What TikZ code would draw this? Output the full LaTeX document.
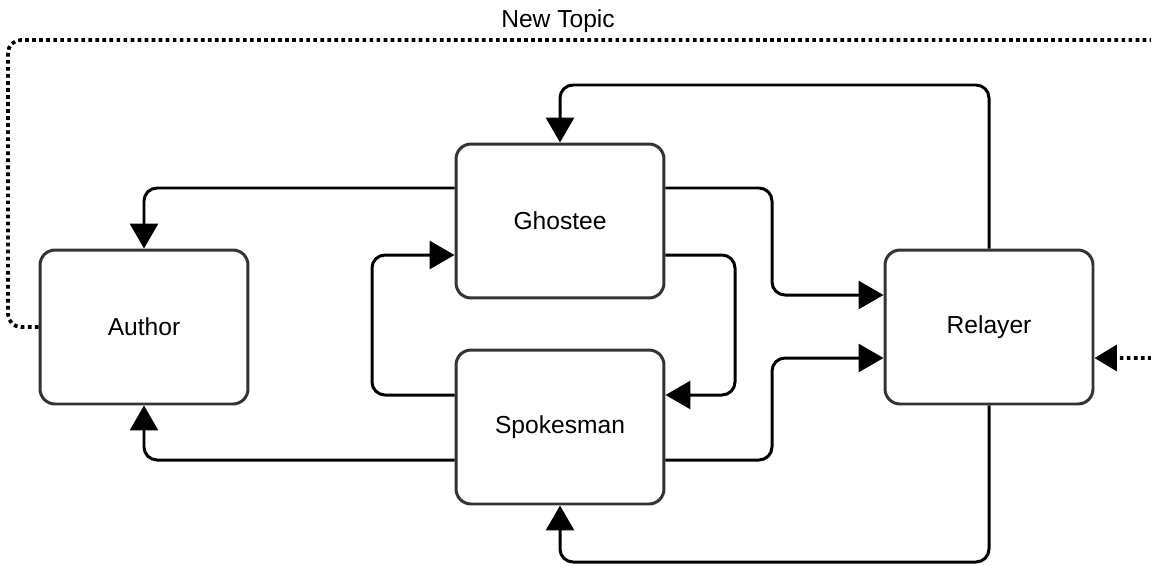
\documentclass[tikz,border=0pt]{standalone}
\usepackage{fontspec}
\setmainfont{Liberation Sans}
\usetikzlibrary{arrows.meta,positioning}

\begin{document}
\begin{tikzpicture}[x=0.02cm,y=-0.02cm,
    box/.style={draw=black!80,line width=1.7pt,rounded corners=0.3cm,fill=white,
      minimum width=4.16cm,minimum height=3.08cm,font=\fontsize{14}{17}\selectfont},
    link/.style={draw=black,line width=1.7pt,rounded corners=0.26cm,
      -{Triangle[length=0.5cm,width=0.56cm]}},
    topic/.style={link,line width=2.1pt,dash pattern=on 2.1pt off 1.9pt,
      -{Triangle[length=0.45cm,width=0.52cm]}}]
  \useasboundingbox (0,0) rectangle (1151,565);
  % Boxes
  \node[box] (author)    at (144,327) {Author};
  \node[box] (ghostee)   at (560,221) {Ghostee};
  \node[box] (spokesman) at (560,427) {Spokesman};
  \node[box] (relayer)   at (989,327) {Relayer};
  % Back to the author
  \draw[link] (ghostee.west |- 0,188) -| (author.north);
  \draw[link] (spokesman.west |- 0,460) -| (author.south);
  % Between ghostee and spokesman
  \draw[link] (spokesman.west |- 0,395) -| (372,255) -- (ghostee.west |- 0,255);
  \draw[link] (ghostee.east |- 0,255) -| (735,395) -- (spokesman.east |- 0,395);
  % On to the relayer
  \draw[link] (ghostee.east |- 0,188) -| (772,295) -- (relayer.west |- 0,295);
  \draw[link] (spokesman.east |- 0,460) -| (772,358) -- (relayer.west |- 0,358);
  % Relayer back
  \draw[link] (relayer.north) |- (560,85) -- (ghostee.north);
  \draw[link] (relayer.south) |- (560,562) -- (spokesman.south);
  % New topic loop
  \draw[topic] (author.west) -| (8,40) -- (1180,40) |- (relayer.east |- 0,358);
  \node[font=\fontsize{14}{17}\selectfont] (newtopic) at (558,21) {New Topic};
\end{tikzpicture}
\end{document}
